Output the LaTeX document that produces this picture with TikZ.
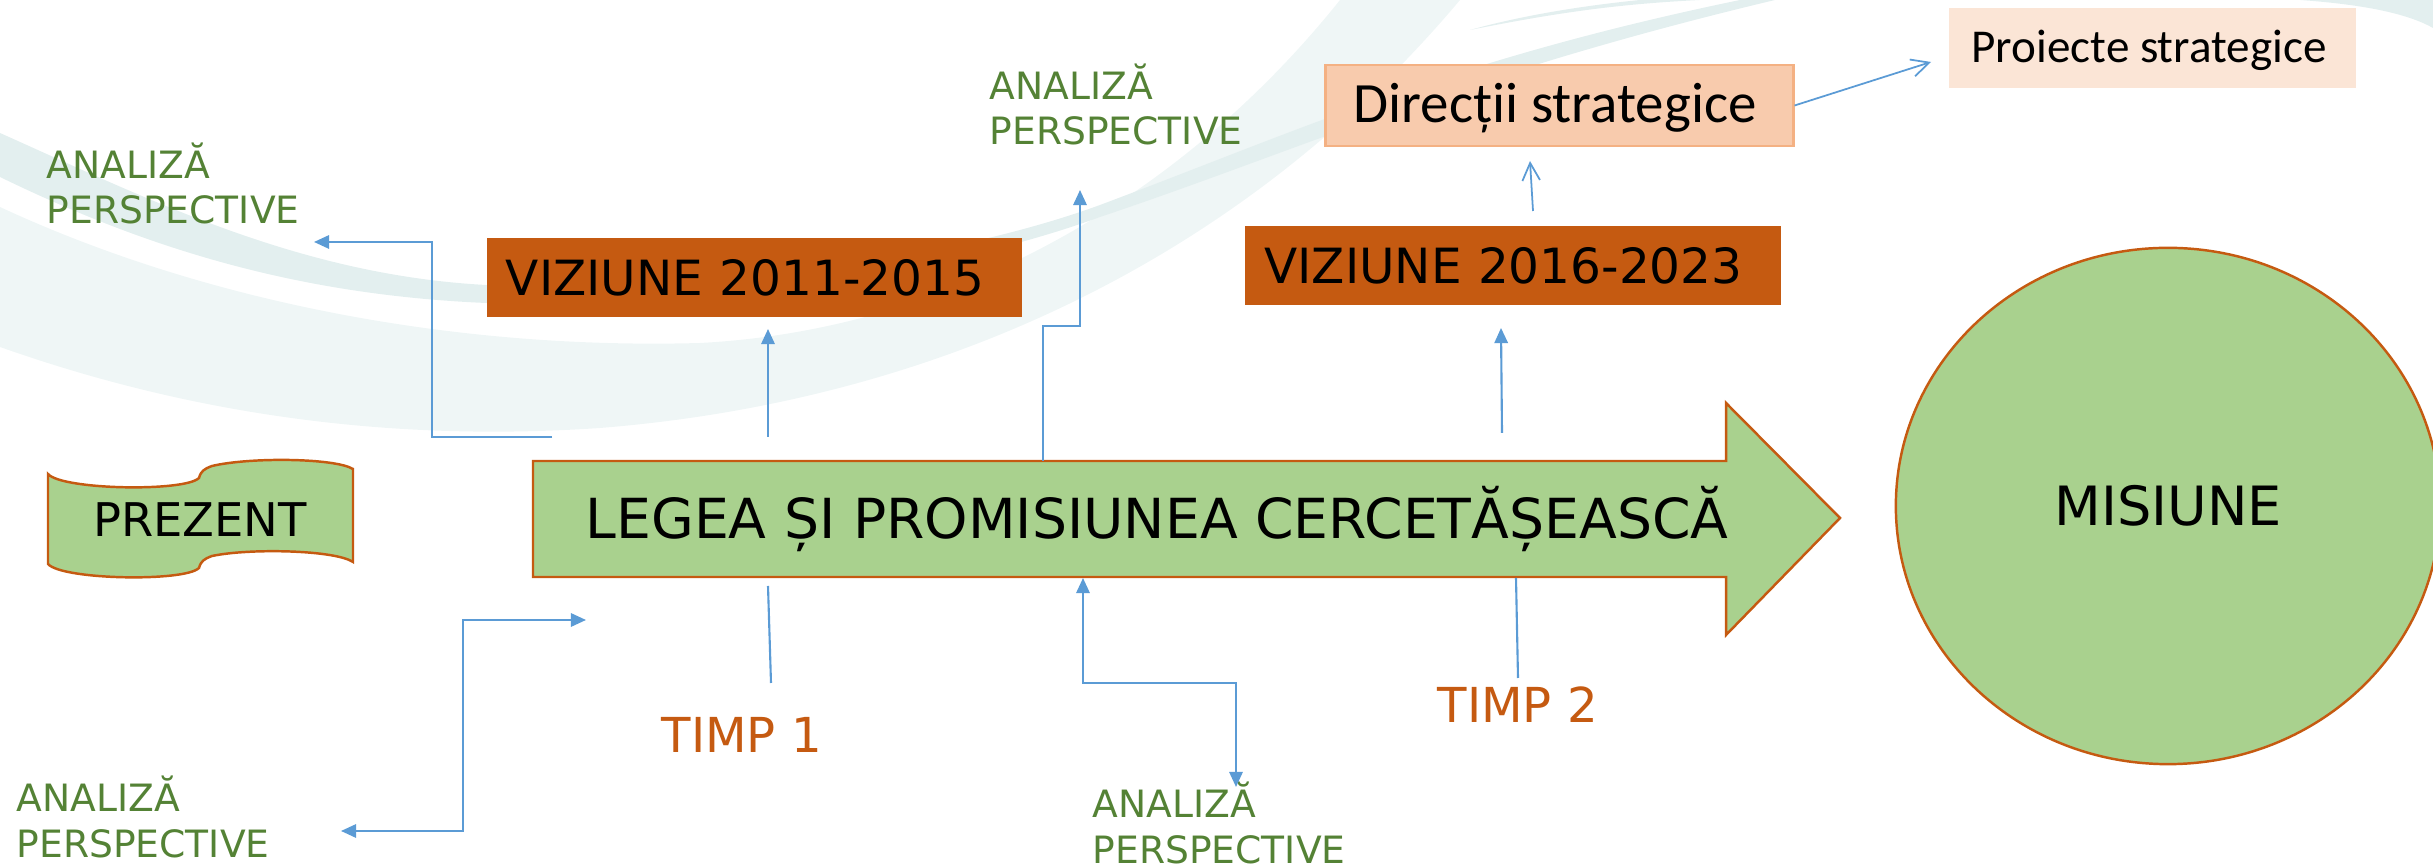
\documentclass[tikz,border=0pt]{standalone}
\usepackage{fontspec}
\setmainfont{DejaVu Sans}
\newfontfamily\calibrifont{Carlito}
\usetikzlibrary{arrows.meta, shapes.geometric}

\definecolor{leafgreen}{HTML}{A9D18E}
\definecolor{rust}{HTML}{C55A11}
\definecolor{linkblue}{HTML}{5B9BD5}
\definecolor{labelgreen}{HTML}{548235}
\definecolor{peach}{HTML}{F8CBAD}
\definecolor{peachline}{HTML}{F4B183}
\definecolor{palepeach}{HTML}{FBE5D6}
\definecolor{swooshdark}{HTML}{E3EFEF}
\definecolor{swooshlight}{HTML}{EFF6F6}

\newcommand{\perspective}{\begin{tabular}[t]{@{}l@{}}ANALIZĂ\\PERSPECTIVE\end{tabular}}

\tikzset{
    outline/.style = {draw = rust, fill = leafgreen, line width = 0.7pt},
    visionbox/.style = {fill = rust, inner ysep = 0pt, inner xsep = 0.19cm, text width = 4.97cm, align = left, minimum height = 0.78cm, font = \fontsize{13.8}{16}\selectfont},
    analysis/.style = {text = labelgreen, anchor = base west, inner sep = 0pt, font = \fontsize{10.7}{12.8}\selectfont},
    timelabel/.style = {text = rust, anchor = base west, inner sep = 0pt, font = \fontsize{13.7}{16}\selectfont},
    link/.style = {draw = linkblue, line width = 0.6pt},
    onehead/.style = {link, -{Triangle[length = 4.3pt, width = 3.8pt]}},
    twohead/.style = {link, {Triangle[length = 4.3pt, width = 3.8pt]}-{Triangle[length = 4.3pt, width = 3.8pt]}},
    openhead/.style = {link, line width = 0.5pt, -{Straight Barb[length = 5pt, width = 5pt]}}
}

\begin{document}
\begin{tikzpicture}[x = 0.01cm, y = -0.01cm]
            \useasboundingbox (0, 0) rectangle (2433, 865);

            \fill[swooshlight] (0, 207) .. controls (200, 300) and (450, 350) .. (700, 343) .. controls (950, 330) and (1180, 200) .. (1340, 0) -- (1460, 0) .. controls (1250, 250) and (950, 400) .. (600, 428) .. controls (350, 445) and (150, 400) .. (0, 347) -- cycle;
            \fill[swooshdark] (0, 133) .. controls (150, 200) and (300, 275) .. (486, 285) .. controls (700, 295) and (950, 260) .. (1100, 205) .. controls (1300, 130) and (1450, 60) .. (1740, 0) -- (1775, 0) .. controls (1460, 75) and (1300, 150) .. (1100, 217) .. controls (950, 272) and (700, 312) .. (486, 303) .. controls (300, 295) and (150, 250) .. (0, 177) -- cycle;
            \fill[swooshdark] (1470, 30) .. controls (1560, 12) and (1620, 4) .. (1700, 0) -- (1640, 0) .. controls (1580, 6) and (1520, 16) .. (1470, 30) -- cycle;
            \fill[swooshdark] (2300, 0) .. controls (2370, 5) and (2410, 15) .. (2433, 28) -- (2433, 0) -- cycle;

            \coordinate (left_up_start) at (552, 437);
            \coordinate (left_up_tip) at (314, 242);
            \coordinate (timp1_up_start) at (768, 437);
            \coordinate (timp1_up_tip) at (768, 329);
            \coordinate (mid_up_start) at (1043, 461);
            \coordinate (mid_up_tip) at (1080, 190);
            \coordinate (timp2_up_start) at (1502, 433);
            \coordinate (timp2_up_tip) at (1501, 328);
            \coordinate (dir_in_start) at (1533, 211);
            \coordinate (dir_in_tip) at (1530, 161);
            \coordinate (proj_in_tip) at (1931, 62);
            \coordinate (low_left_tip) at (341, 831);
            \coordinate (low_left_end) at (586, 620);
            \coordinate (low_mid_up) at (1083, 578);
            \coordinate (low_mid_down) at (1236, 787);
            \coordinate (timp1_down_start) at (768, 586);
            \coordinate (timp1_down_end) at (771, 683);
            \coordinate (timp2_down_start) at (1516, 578);
            \coordinate (timp2_down_end) at (1518, 678);

            \filldraw[outline] (48, 474) .. controls (62, 490) and (185, 492) .. (199, 478) .. controls (201, 471) and (204, 469) .. (212, 466) .. controls (250, 457) and (335, 458) .. (353, 469) -- (353, 562) .. controls (335, 550) and (250, 548) .. (212, 556) .. controls (204, 559) and (201, 561) .. (199, 568) .. controls (185, 582) and (62, 580) .. (48, 564) -- cycle;
            \node[font = \fontsize{13.2}{16}\selectfont] (prezent) at (200, 519.5) {PREZENT};

            \filldraw[outline] (533, 461) -- (1726, 461) -- (1726, 403) -- (1840, 518) -- (1726, 635) -- (1726, 577) -- (533, 577) -- cycle;
            \node[anchor = base, font = \fontsize{15.7}{18}\selectfont] (legea) at (1157, 539) {LEGEA ȘI PROMISIUNEA CERCETĂȘEASCĂ};

            \node[ellipse, outline, minimum width = 5.44cm, minimum height = 5.16cm, font = \fontsize{15.4}{18}\selectfont] (misiune) at (2168, 506) {MISIUNE};

            \node[visionbox] (viz1) at (754.5, 277.5) {VIZIUNE 2011-2015};
            \node[visionbox] (viz2) at (1513, 265.5) {VIZIUNE 2016-2023};

            \node[draw = peachline, fill = peach, line width = 0.8pt, minimum width = 4.67cm, minimum height = 0.81cm] (dir) at (1559.5, 105.5) {};
            \node[anchor = base, font = \calibrifont\fontsize{16.2}{19}\selectfont] at (1555, 123) {Direcții strategice};
            \node[fill = palepeach, minimum width = 4.07cm, minimum height = 0.80cm] (proj) at (2152.5, 48) {};
            \node[anchor = base, font = \calibrifont\fontsize{13.4}{16}\selectfont] at (2149, 63) {Proiecte strategice};

            \node[analysis] (an1) at (46, 179) {\perspective};
            \node[analysis] (an2) at (989, 100) {\perspective};
            \node[analysis] (an3) at (16, 812) {\perspective};
            \node[analysis] (an4) at (1092, 818) {\perspective};

            \node[timelabel] (timp1) at (661, 753) {TIMP 1};
            \node[timelabel] (timp2) at (1437, 723) {TIMP 2};

            \draw[onehead] (left_up_start) -- (432, 437) -- (432, 242) -- (left_up_tip);
            \draw[onehead] (timp1_up_start) -- (timp1_up_tip);
            \draw[onehead] (mid_up_start) -- (1043, 326) -- (1080, 326) -- (mid_up_tip);
            \draw[onehead] (timp2_up_start) -- (timp2_up_tip);
            \draw[openhead] (dir_in_start) -- (dir_in_tip);
            \draw[openhead] (dir.east) -- (proj_in_tip);
            \draw[twohead] (low_left_tip) -- (463, 831) -- (463, 620) -- (low_left_end);
            \draw[twohead] (low_mid_up) -- (1083, 683) -- (1236, 683) -- (low_mid_down);
            \draw[link] (timp1_down_start) -- (timp1_down_end);
            \draw[link] (timp2_down_start) -- (timp2_down_end);
\end{tikzpicture}
\end{document}
